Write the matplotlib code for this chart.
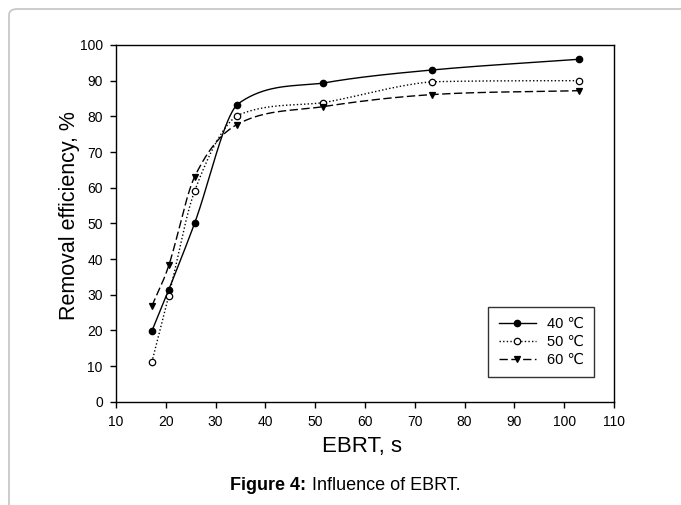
import numpy as np
import matplotlib
matplotlib.use("Agg")
import matplotlib.pyplot as plt
from matplotlib.patches import FancyBboxPatch

plt.rcParams['font.family'] = ['Liberation Sans', 'DejaVu Sans']

ebrt = [17.2, 20.6, 25.8, 34.3, 51.5, 73.5, 103.0]
eff_40 = [19.8, 31.4, 50.1, 83.3, 89.3, 93.0, 96.0]
eff_50 = [11.1, 29.7, 59.1, 80.2, 83.8, 89.7, 90.0]
eff_60 = [26.8, 38.2, 63.1, 77.7, 82.7, 86.1, 87.2]
labels = ['40 \u2103', '50 \u2103', '60 \u2103']
xticks = list(range(10, 111, 10))
yticks = list(range(0, 101, 10))


def smooth_curve(x, y, n=60):
    """Catmull-Rom style cubic Hermite with Fritsch-Carlson limiting."""
    x = np.asarray(x, float); y = np.asarray(y, float)
    k = len(x); h = np.diff(x); delta = np.diff(y) / h
    m = np.zeros(k)
    m[0] = delta[0]; m[-1] = delta[-1]
    for i in range(1, k - 1):
        m[i] = (y[i + 1] - y[i - 1]) / (x[i + 1] - x[i - 1])
    ms0 = np.zeros(k - 1); ms1 = np.zeros(k - 1)
    for i in range(k - 1):
        a, b = m[i], m[i + 1]
        if delta[i] == 0:
            a = b = 0.0
        else:
            al, be = a / delta[i], b / delta[i]
            if al < 0: a = 0.0; al = 0.0
            if be < 0: b = 0.0; be = 0.0
            s = al * al + be * be
            if s > 9:
                t = 3 / np.sqrt(s)
                a = t * al * delta[i]; b = t * be * delta[i]
        ms0[i], ms1[i] = a, b
    xs_all, ys_all = [], []
    for i in range(k - 1):
        t = np.linspace(0, 1, n)
        h00 = 2 * t**3 - 3 * t**2 + 1; h10 = t**3 - 2 * t**2 + t
        h01 = -2 * t**3 + 3 * t**2; h11 = t**3 - t**2
        xs_all.append(x[i] + t * h[i])
        ys_all.append(h00 * y[i] + h10 * h[i] * ms0[i] + h01 * y[i + 1] + h11 * h[i] * ms1[i])
    return np.concatenate(xs_all), np.concatenate(ys_all)


fig = plt.figure(figsize=(6.81, 5.05), dpi=100)
border = FancyBboxPatch((9 / 681, -0.05), 1.0, 1 - 9 / 505 + 0.05,
                        boxstyle="round,pad=0,rounding_size=0.012",
                        transform=fig.transFigure, facecolor='none',
                        edgecolor='#c4c4c4', linewidth=1.2)
fig.patches.append(border)

ax_l, ax_r, ax_t, ax_b = 116, 614, 45, 401.7
ax = fig.add_axes([ax_l / 681, 1 - ax_b / 505, (ax_r - ax_l) / 681, (ax_b - ax_t) / 505])

styles = [dict(ls='-', marker='o', mfc='black', dashes=None),
          dict(ls=':', marker='o', mfc='white', dashes=(1, 1.6)),
          dict(ls='--', marker='v', mfc='black', dashes=(6, 2.5))]
series = [eff_40, eff_50, eff_60]
handles = []
for yv, st, lab in zip(series, styles, labels):
    xs, ys = smooth_curve(ebrt, yv)
    line, = ax.plot(xs, ys, color='black', lw=1.0, ls=st['ls'])
    if st['dashes']:
        line.set_dashes(st['dashes'])
    ax.plot(ebrt, yv, ls='none', marker=st['marker'], color='black',
            mfc=st['mfc'], mec='black', ms=4.6, mew=0.9, zorder=3)
    h, = ax.plot([], [], color='black', lw=1.0, ls=st['ls'], marker=st['marker'],
                 mfc=st['mfc'], mec='black', ms=4.6, mew=0.9, label=lab)
    if st['dashes']:
        h.set_dashes(st['dashes'])
    handles.append(h)

ax.set_xlim(10, 110)
ax.set_ylim(0, 100)
ax.set_xticks(xticks)
ax.set_yticks(yticks)
ax.tick_params(direction='out', length=4.5, width=1, labelsize=10, pad=5,
               top=False, right=False)
for s in ax.spines.values():
    s.set_linewidth(1.0)

W = ax_r - ax_l; H = ax_b - ax_t
ax.text((362 - ax_l) / W, (ax_b - 452.5) / H, 'EBRT, s', fontsize=16,
        ha='center', va='baseline', transform=ax.transAxes)
ax.text((69 - ax_l) / W, (ax_b - 216) / H, 'Removal efficiency, %', fontsize=15.5,
        ha='center', va='center', rotation=90, transform=ax.transAxes)

leg = ax.legend(handles=handles, loc='upper left',
                bbox_to_anchor=((488.3 - ax_l) / W, (ax_b - 306.7) / H),
                borderaxespad=0, frameon=True, fancybox=False, edgecolor='black',
                fontsize=10.5, handlelength=2.6, borderpad=0.7, labelspacing=0.28,
                handletextpad=0.7)
leg.get_frame().set_linewidth(1.0)

fig.text(306 / 681, 1 - 489.5 / 505, 'Figure 4:', fontsize=13, fontweight='bold',
         ha='right', va='baseline')
fig.text(312.5 / 681, 1 - 489.5 / 505, 'Influence of EBRT.', fontsize=13,
         ha='left', va='baseline')

fig.savefig('out.png', dpi=100)
